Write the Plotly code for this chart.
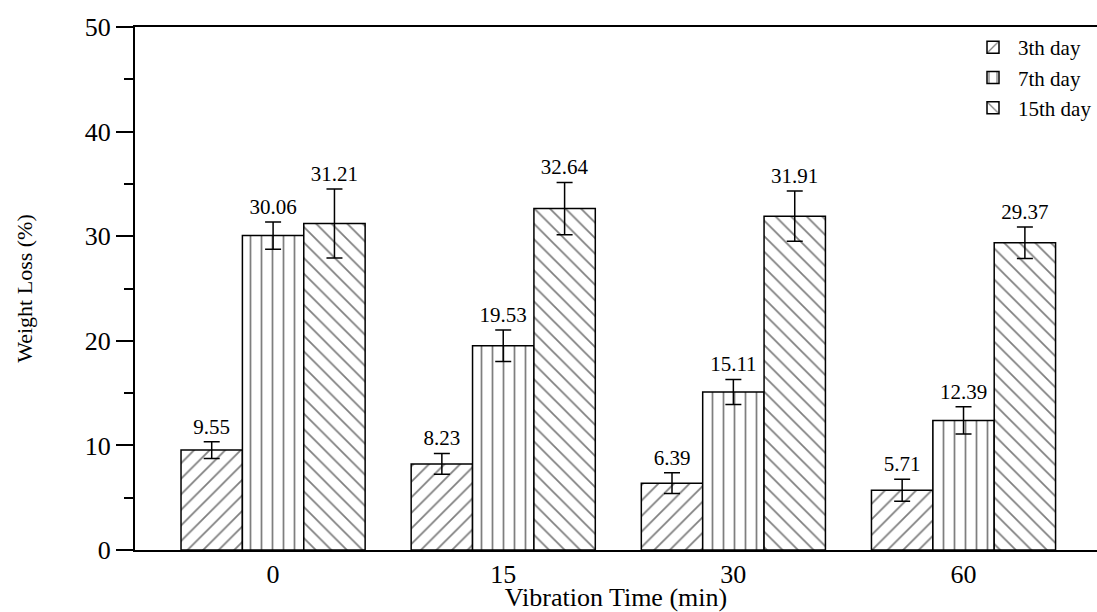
import plotly.graph_objects as go

categories = ["0", "15", "30", "60"]
series_names = ["3th day", "7th day", "15th day"]
day3 = [9.55, 8.23, 6.39, 5.71]
day7 = [30.06, 19.53, 15.11, 12.39]
day15 = [31.21, 32.64, 31.91, 29.37]
err3 = [0.8, 1.0, 1.0, 1.05]
err7 = [1.3, 1.5, 1.2, 1.3]
err15 = [3.3, 2.5, 2.4, 1.5]
patterns = ["/", "|", "\\"]

FONT = "Liberation Serif"
fig = go.Figure()

values = [day3, day7, day15]
errors = [err3, err7, err15]
for name, vals, errs, pat in zip(series_names, values, errors, patterns):
    fig.add_trace(go.Bar(
        x=categories, y=vals, name=name, offsetgroup=name,
        marker=dict(color="white", line=dict(color="black", width=1.5),
                    pattern=dict(shape=pat, fgcolor="black", bgcolor="white",
                                 size=11, solidity=0.16, fillmode="overlay")),
        error_y=dict(type="data", array=errs, visible=True, color="black",
                     thickness=1.5, width=8),
    ))

# value labels above error bars (invisible bar traces carrying text)
for name, vals, errs in zip(series_names, values, errors):
    fig.add_trace(go.Bar(
        x=categories, y=[v + e for v, e in zip(vals, errs)], offsetgroup=name,
        marker=dict(color="rgba(0,0,0,0)", line=dict(width=0)),
        text=[f"{v:.2f}" for v in vals], textposition="outside",
        textfont=dict(family=FONT, size=21, color="black"),
        cliponaxis=False, showlegend=False, hoverinfo="skip",
        base=0,
    ))

fig.update_layout(
    width=1097, height=612,
    margin=dict(l=135, r=0, t=27, b=62),
    paper_bgcolor="white", plot_bgcolor="white",
    barmode="group", bargap=0.2, bargroupgap=0,
    font=dict(family=FONT, color="black"),
    legend=dict(x=1.0, y=1.0, xanchor="right", yanchor="top",
                font=dict(family=FONT, size=21), bgcolor="rgba(0,0,0,0)",
                tracegroupgap=0, itemwidth=40),
    uniformtext=dict(minsize=21, mode="show"),
)
fig.update_xaxes(
    range=[-0.6, 3.58], showline=True, linecolor="black", linewidth=2,
    mirror=True, ticks="", showgrid=False,
    tickfont=dict(family=FONT, size=26),
    title=dict(text="Vibration Time (min)", font=dict(family=FONT, size=26), standoff=0),
)
fig.update_yaxes(
    range=[0, 50], dtick=10, showline=True, linecolor="black", linewidth=2,
    ticks="outside", ticklen=17, tickwidth=2, tickcolor="black", showgrid=False,
    zeroline=False,
    minor=dict(dtick=5, ticks="outside", ticklen=9, tickwidth=2, tickcolor="black"),
    tickfont=dict(family=FONT, size=26),
    title=dict(text="Weight Loss (%)", font=dict(family=FONT, size=22), standoff=46),
)

fig.write_html("out.html", config={"displayModeBar": False},
               post_script="document.body.style.margin='0';")
